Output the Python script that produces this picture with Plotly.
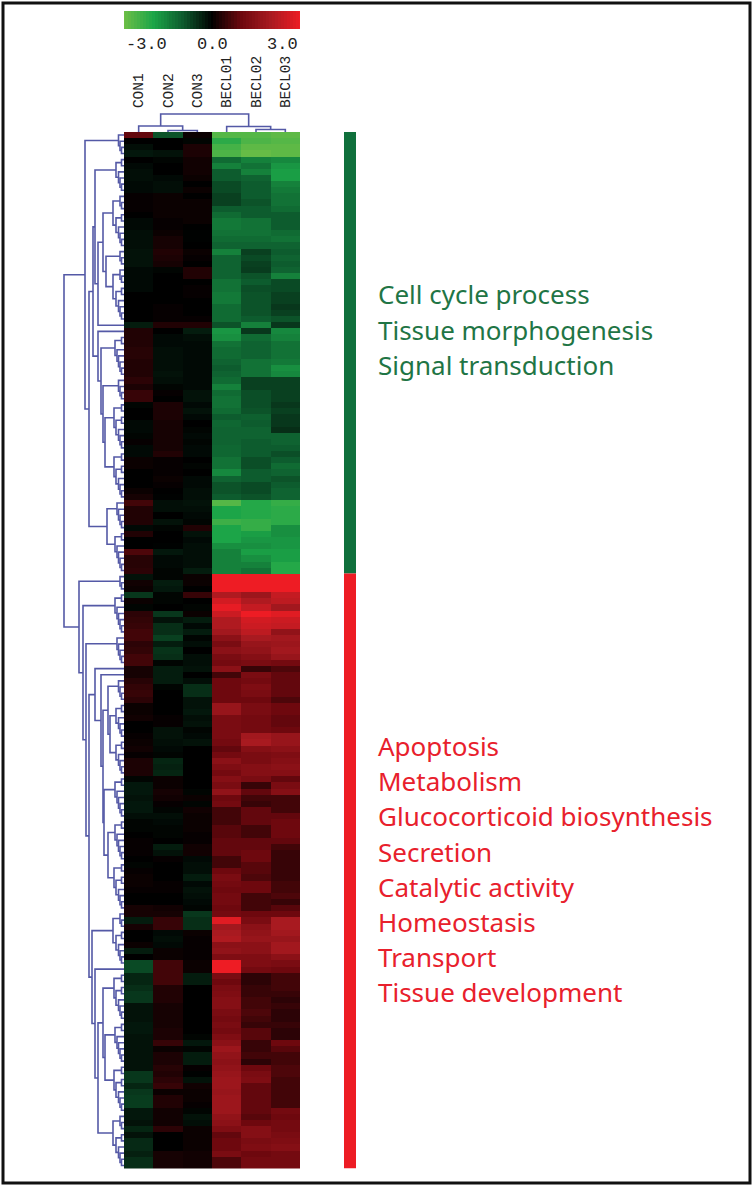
"""
Heatmap with dendrograms: BECL vs CON expression
"""
import plotly.graph_objects as go

W, H = 754, 1188

SAMPLES = ['CON1', 'CON2', 'CON3', 'BECL01', 'BECL02', 'BECL03']

# values per row, top to bottom (first 72 rows are the green block)
CON1 = [.9, 0, -.15, -.25, 0, -.1, -.15, -.15, -.1, -.1,
        .05, .05, .05, 0, -.1, -.1, -.15, -.15, -.15, -.2,
        -.2, -.2, -.1, -.1, -.1, -.1, 0, 0, 0, 0,
        0, -.3, .3, .3, .3, .35, .35, .3, .3, .3,
        .4, .25, .5, .5, -.05, 0, 0, -.1, -.1, -.05,
        .05, -.1, -.1, .1, .1, 0, 0, 0, .1, .2,
        .6, .3, .3, .3, -.1, .3, 0, 0, .7, .35,
        .35, .4,
        -.2, .15, .1, -.6, .1, -.05, .4, .45, .5, .6,
        .6, .4, .45, .6, .6, .2, .2, .35, .45, .5,
        .4, .1, .1, .15, 0, 0, .05, .1, .15, .05,
        .25, .25, .25, -.05, -.25, -.25, -.2, -.25, -.25, -.15,
        -.05, -.05, 0, .05, .05, .05, 0, -.05, .05, .1,
        .1, .05, 0, 0, .2, .2, -.3, .2, 0, 0,
        .1, -.3, 0, -.8, -.8, -.4, -.4, -.5, -.6, -.6,
        -.2, -.2, -.2, -.25, -.25, -.2, -.2, -.2, -.2, -.2,
        -.2, -.6, -.6, -.4, -.6, -.65, -.65, -.25, -.25, -.2,
        -.4, -.2, -.45, -.45, -.35, -.5, -.5]
CON2 = [-.9, 0, 0, -.2, -.05, 0, 0, -.1, -.15, -.15,
        .1, .1, .1, .1, .05, .05, .1, .2, .2, .3,
        .25, .2, -.05, 0, 0, 0, 0, 0, .05, .05,
        .05, .3, 0, -.1, -.1, -.15, -.15, -.15, -.15, -.2,
        -.15, -.05, .05, 0, .25, .25, .25, .2, .2, .2,
        .2, .2, .3, .05, .05, .05, .1, .05, 0, -.02,
        -.15, -.15, 0, -.2, -.05, 0, 0, -.02, -.25, -.1,
        -.1, -.05,
        -.05, -.3, -.25, -.05, -.05, 0, -.6, -.2, -.5, -.5,
        -.7, -.3, -.55, -.5, -.05, -.3, -.3, -.3, -.05, 0,
        0, 0, 0, .05, .05, -.2, -.2, -.15, -.1, -.05,
        -.4, -.35, -.4, .1, .1, .2, .15, .05, -.05, -.15,
        -.1, -.05, -.05, 0, -.3, -.2, .05, 0, 0, 0,
        .05, .05, 0, 0, .15, .2, .5, .5, -.1, -.15,
        -.1, .1, .1, .6, .6, .6, .6, .3, .3, .3,
        .2, .2, .2, .2, .25, .25, .5, .1, .25, .25,
        .35, .3, .4, .5, .1, .3, .3, .15, .15, .15,
        .4, 0, 0, 0, .2, .2, .2]
CON3 = [.1, -.05, .25, .25, .15, .15, .15, .1, 0, .1,
        0, .1, .1, .1, .1, 0, -.02, -.02, 0, .1,
        .05, 0, .3, .3, 0, .05, .05, 0, 0, 0,
        .05, .3, -.3, -.15, -.1, -.1, -.1, -.1, -.1, -.1,
        -.1, -.1, -.2, -.2, -.1, -.2, -.1, 0, -.05, -.1,
        -.05, -.1, -.1, 0, -.05, 0, -.1, -.1, -.15, -.15,
        -.2, -.15, -.1, -.05, .3, -.2, -.1, -.15, -.15, -.15,
        -.15, -.3,
        .1, .1, 0, .5, 0, -.05, .1, -.3, -.1, -.3,
        -.05, -.15, 0, -.15, -.15, -.2, 0, -.15, -.5, -.5,
        -.2, -.2, -.25, -.15, -.2, -.05, -.1, -.2, 0, 0,
        0, 0, 0, 0, 0, -.05, .1, -.05, .15, .1,
        .1, .1, .05, .05, .15, .15, -.1, -.15, -.15, -.3,
        -.1, -.2, -.15, -.1, -.05, -.6, -.5, -.5, .1, .05,
        .05, .05, .05, .1, .1, -.3, -.3, 0, 0, 0,
        0, 0, 0, 0, 0, -.05, -.25, -.05, -.3, -.3,
        .05, -.02, -.2, .15, .1, .1, .05, -.05, -.2, -.15,
        .1, .1, .1, .1, .15, .15, .15]
BECL01 = [-2.7, -2.2, -2.5, -2.6, -1.2, -1.5, -1, -1, -.8, -.8,
          -.7, -.7, -1, -1.2, -1.4, -1.4, -1.3, -1.2, -1.1, -1.5,
          -1.1, -1.1, -1.1, -1.1, -1.3, -1.3, -1.4, -1.4, -1.2, -1.2,
          -1.2, -.9, -1.8, -1.7, -1.3, -1.2, -1.2, -1.1, -1, -1.1,
          -1.2, -1.5, -1.2, -1.3, -1.3, -1.2, -1, -1.15, -1.1, -1.1,
          -1.1, -1.15, -1.15, -1.3, -1.3, -1.6, -1.1, -.9, -.9, -1,
          -2.7, -2, -2, -2.4, -2, -2, -2, -1.7, -1.5, -1.5,
          -1.5, -1.5,
          3, 3, 3, 2.1, 2.6, 2.9, 2.5, 2.1, 2.1, 1.9,
          1.5, 1.2, 1.5, 1.2, 1.1, 1.5, .6, 1, 1, 1,
          1, 1.7, 1.7, 1.2, 1.2, 1.2, 1.2, 1.1, .9, 1.1,
          1.5, 1.3, 1.1, 1.4, 1.2, 1.6, 1, 1.1, .6, .6,
          .6, .8, .8, .9, .9, .9, .6, .6, 1, 1.2,
          1.1, 1, 1.1, 1.1, 1, 1.1, 2.8, 1.9, 2, 2.1,
          1.5, 1.6, 1.3, 3, 3, 1.2, 1, 1.2, 1.3, 1.4,
          1.4, 1.2, 1.1, 1.2, 1.1, 1.3, 1.5, 1.8, 1.6, 1.5,
          1.6, 1.7, 1.8, 1.8, 1.7, 1.8, 1.8, 1.8, 1.6, 1.5,
          1.3, .9, 1, 1, 1.2, .7, .7]
BECL02 = [-2.7, -2.6, -2.8, -2.9, -1.5, -1.3, -1.5, -1.1, -1, -1,
          -1, -.9, -1, -1, -1.3, -1.3, -1.3, -1.2, -1.1, -.7,
          -.8, -.7, -.65, -.9, -1, -.85, -.9, -.9, -.9, -.9,
          -1, -1.5, -.6, -1.2, -1.1, -1.1, -1.1, -1.3, -1.3, -1.3,
          -.7, -.7, -.85, -.85, -.85, -.9, -1.05, -1, -1.1, -1.1,
          -1, -1, -1, -.85, -.85, -1, -1, -.8, -.8, -.9,
          -2.1, -2.1, -2.1, -2.3, -2.3, -1.9, -1.8, -1.7, -1.9, -1.7,
          -1.5, -1.3,
          3, 3, 3, 1.8, 2.1, 2.4, 3, 2.6, 2.5, 2.3,
          2, 1.7, 1.6, 1.4, 1.2, .5, 1.2, 1.1, 1.3, 1.2,
          1, 1.2, 1.2, 1.1, 1.1, 1.1, 1.9, 2, 1.4, 1.2,
          1.2, 1.4, 1.4, 1.2, .5, .9, .6, .5, .9, .9,
          .9, .6, .6, .9, .9, 1, 1, .8, .8, .7,
          1, 1, .6, .6, .6, 1, 1.2, 1.5, 1.6, 1.7,
          1.5, 1.5, 1.3, 1.3, 1.1, .4, .4, .5, .5, .6,
          .6, .7, .6, .5, .8, .8, .5, .5, .6, .4,
          1, 1.2, 1.3, .9, .9, .9, .9, .9, .8, 1,
          1.4, 1.4, 1.2, 1.3, 1, 1.1, 1.1]
BECL03 = [-2.8, -2.7, -2.8, -2.8, -1.6, -1.8, -1.9, -1.9, -1.5, -1.4,
          -1.3, -1.3, -1.2, -1, -1, -1, -1.2, -1.3, -1.1, -1,
          -1.1, -1, -1.1, -1.5, -.8, -.8, -.7, -.7, -.6, -.7,
          -.9, -.6, -1.6, -1.5, -1.3, -1.3, -1.3, -1.4, -1.7, -1.6,
          -.7, -.7, -.7, -.7, -.6, -.7, -.6, -.6, -.5, -1.1,
          -1.1, -1, -.85, -1, -1.2, -1.1, -.9, -1, -1.1, -1.1,
          -2.3, -2.2, -2.2, -2.2, -1.7, -1.7, -1.8, -1.8, -1.9, -1.9,
          -2.1, -2.1,
          3, 3, 3, 2.4, 2.3, 1.9, 2.8, 2.5, 2.4, 1.6,
          1.9, 1.8, 1.9, 1.7, 1.1, .7, .9, .9, .9, .9,
          .7, 1, 1, .9, .9, 1, 1.7, 1.7, 1.5, 1.3,
          1.4, 1.5, 1.4, .9, 1.2, 1.4, .6, .6, .6, .9,
          1, 1, 1, .9, .6, .5, .5, .5, .5, .5,
          .6, .6, .7, .5, .8, 1, 2, 2, 1.9, 1.7,
          1.9, 1.9, 1.5, 1.2, 1, .6, .6, .6, .5, .4,
          .5, .4, .4, .5, .4, .4, 1, .8, .6, .6,
          .7, .7, .6, .6, .6, .6, .6, 1.1, 1, 1.1,
          1.1, 1.2, 1.3, 1.4, 1.1, 1.1, 1.1]

GREEN_TERMS = ['Cell cycle process', 'Tissue morphogenesis', 'Signal transduction']
RED_TERMS = ['Apoptosis', 'Metabolism', 'Glucocorticoid biosynthesis', 'Secretion',
             'Catalytic activity', 'Homeostasis', 'Transport', 'Tissue development']
GREEN_ROWS = 72

LEGEND_VALUES = [v / 10 for v in range(-30, 31)]
LEGEND_TICKS = [-3.0, 0.0, 3.0]

COLORSCALE = [[0, 'rgb(110,190,70)'], [1 / 6, 'rgb(28,165,72)'], [2 / 6, 'rgb(13,92,46)'],
              [0.5, 'rgb(0,0,0)'], [4 / 6, 'rgb(110,8,14)'], [5 / 6, 'rgb(168,26,32)'],
              [1, 'rgb(238,28,36)']]

# merge trees: [distance, child, child]; an int child is a tight block of that many rows
ROW_TREE = [60,
            [39, 4,
             [35,
              [31,
               [29, 6,
                [26,
                 [21, 9, [18, 3, 9]],
                 1]],
               [26, 1,
                [23, 7,
                 [21, 4, [19, 8, 8]]]]],
              [17, 5, 7]]],
            [45, 3,
             [41, 7,
              [38, 5,
               [35,
                [29, 1,
                 [23, 1,
                  [21,
                   [16, 4, [14, 6, 6]],
                   [20, 7, [16, 7, 8]]]]],
                [32, 9,
                 [29, 1,
                  [26,
                   [21, 8, [19, 7, 8]],
                   9]]]]]]]]
TIGHT_DIST = {2: 2.5, 3: 4, 4: 5.5, 5: 7, 6: 8, 7: 9, 8: 10, 9: 11}

COL_TREE = [18, [6, 0, [1.5, 1, 2]], [5.5, 3, [2.5, 4, 5]]]


def px_x(x):
    return x / W


def px_y(y):
    return 1 - y / H


def tight_block(n):
    if n == 1:
        return None
    top = n // 3 if n > 3 else 1
    return [TIGHT_DIST[n], top, n - top]


def walk_rows(node, start, xs, ys):
    """row tree, returns (y, distance, rows used)"""
    if isinstance(node, int):
        if node == 1:
            return start, 0, 1
        node = tight_block(node)
    dist, a, b = node
    ya, da, na = walk_rows(a, start, xs, ys)
    yb, db, nb = walk_rows(b, start + na, xs, ys)
    xs += [da, dist, dist, db, None]
    ys += [ya, ya, yb, yb, None]
    return (ya + yb) / 2, dist, na + nb


def walk_cols(node, xs, ys):
    if isinstance(node, int):
        return node, 0
    dist, a, b = node
    xa, da = walk_cols(a, xs, ys)
    xb, db = walk_cols(b, xs, ys)
    xs += [xa, xa, xb, xb, None]
    ys += [da, dist, dist, db, None]
    return (xa + xb) / 2, dist


z = [list(row) for row in zip(CON1, CON2, CON3, BECL01, BECL02, BECL03)]
n_rows = len(z)

fig = go.Figure()

fig.add_trace(go.Heatmap(z=z, x=list(range(6)), y=list(range(n_rows)),
                         colorscale=COLORSCALE, zmin=-3, zmax=3, showscale=False,
                         xaxis='x', yaxis='y'))

fig.add_trace(go.Heatmap(z=[LEGEND_VALUES], x=LEGEND_VALUES, y=[0],
                         colorscale=COLORSCALE, zmin=-3, zmax=3, showscale=False,
                         xaxis='x3', yaxis='y4'))

rx, ry = [], []
walk_rows(ROW_TREE, 0, rx, ry)
fig.add_trace(go.Scatter(x=rx, y=ry, mode='lines', xaxis='x2', yaxis='y',
                         line=dict(color='#5459a6', width=1.6), hoverinfo='skip'))

cx, cy = [], []
walk_cols(COL_TREE, cx, cy)
fig.add_trace(go.Scatter(x=cx, y=cy, mode='lines', xaxis='x', yaxis='y3',
                         line=dict(color='#5459a6', width=1.6), hoverinfo='skip'))

hidden = dict(showgrid=False, zeroline=False, showticklabels=False, ticks='')

fig.update_layout(
    width=W, height=H, margin=dict(l=0, r=0, t=0, b=0),
    paper_bgcolor='white', plot_bgcolor='white', showlegend=False,
    xaxis=dict(domain=[px_x(124), px_x(300)], range=[-0.5, 5.5], side='top', anchor='y',
               tickmode='array', tickvals=list(range(6)), ticktext=SAMPLES, tickangle=-90,
               ticks='outside', ticklen=20, tickcolor='rgba(0,0,0,0)', showgrid=False,
               zeroline=False, tickfont=dict(family='Liberation Mono', size=14.5, color='#222')),
    yaxis=dict(domain=[px_y(1168.5), px_y(132)], range=[n_rows - 0.5, -0.5], anchor='x', **hidden),
    xaxis2=dict(domain=[px_x(62), px_x(124)], range=[62, 0], anchor='y', **hidden),
    yaxis3=dict(domain=[px_y(132), px_y(112)], range=[0, 20], anchor='x', **hidden),
    xaxis3=dict(domain=[px_x(124), px_x(300)], range=[-3, 3], anchor='y4', **hidden),
    yaxis4=dict(domain=[px_y(29), px_y(11)], range=[-0.5, 0.5], anchor='x3', **hidden),
)

# class bars next to the heatmap
fig.add_shape(type='rect', xref='paper', yref='y', x0=px_x(344), x1=px_x(356),
              y0=-0.5, y1=GREEN_ROWS - 0.5, fillcolor='#10703c', line_width=0)
fig.add_shape(type='rect', xref='paper', yref='y', x0=px_x(344), x1=px_x(356),
              y0=GREEN_ROWS - 0.5, y1=n_rows - 0.5, fillcolor='#ed1c24', line_width=0)

# frame
fig.add_shape(type='rect', xref='paper', yref='paper', x0=px_x(3), x1=px_x(750),
              y0=px_y(1183), y1=px_y(3), line=dict(color='#111', width=3))

for i, term in enumerate(GREEN_TERMS):
    fig.add_annotation(text=term, xref='paper', yref='paper', x=px_x(376),
                       y=px_y(294 + i * 35.5), xanchor='left', yanchor='middle', showarrow=False,
                       font=dict(family='Noto Sans', size=26, color='#1f7545'))
for i, term in enumerate(RED_TERMS):
    fig.add_annotation(text=term, xref='paper', yref='paper', x=px_x(376),
                       y=px_y(746 + i * 35.2), xanchor='left', yanchor='middle', showarrow=False,
                       font=dict(family='Noto Sans', size=26, color='#e8202c'))

for val, anchor in zip(LEGEND_TICKS, ['left', 'center', 'right']):
    fig.add_annotation(text=f'{val:.1f}', xref='x3', yref='paper', x=val, y=px_y(45),
                       xanchor=anchor, yanchor='middle', showarrow=False,
                       font=dict(family='Liberation Mono', size=17, color='#222'))

fig.write_html("out.html", config={'displayModeBar': False},
               post_script="document.body.style.margin='0';")
